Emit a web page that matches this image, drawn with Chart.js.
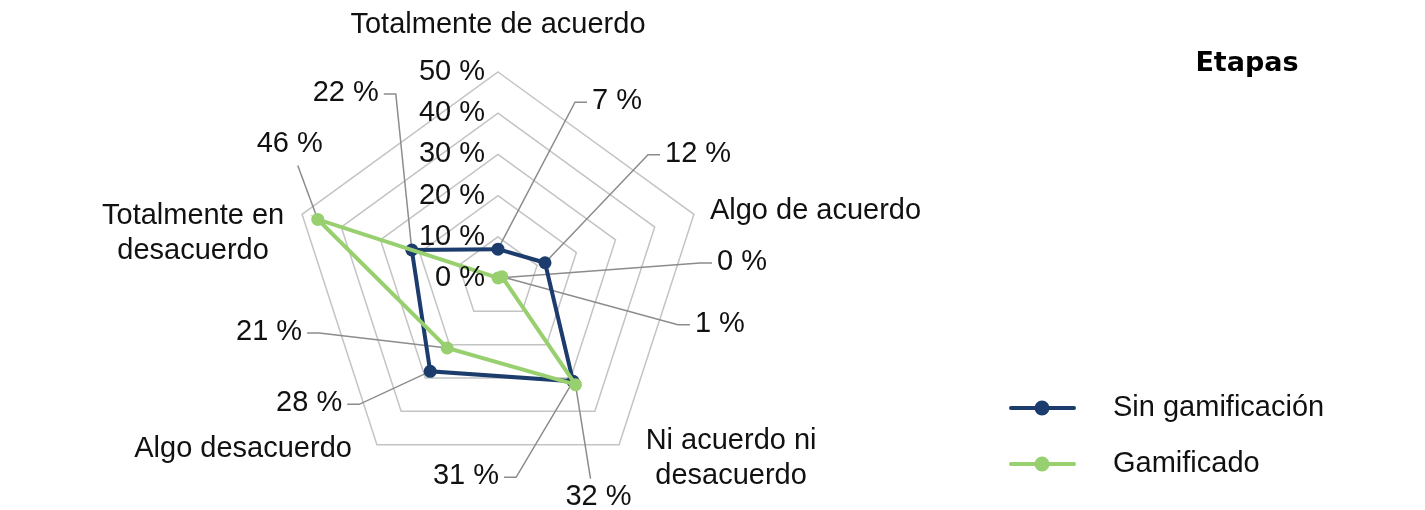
<!DOCTYPE html>
<html>
<head>
<meta charset="utf-8">
<script src="https://cdn.jsdelivr.net/npm/chart.js@4.4.0/dist/chart.umd.min.js"></script>
<style>
  html, body { margin: 0; padding: 0; background: #fff; }
  #wrap { position: relative; width: 1425px; height: 510px; }
</style>
</head>
<body>
<div id="wrap"><canvas id="chart" width="1425" height="510"></canvas></div>
<script>
// data
const categories = [['Totalmente de acuerdo'], ['Algo de acuerdo'], ['Ni acuerdo ni', 'desacuerdo'], ['Algo desacuerdo'], ['Totalmente en', 'desacuerdo']];
const seriesNames = ['Sin gamificación', 'Gamificado'];
const sinGamificacion = [7, 12, 31, 28, 22];
const gamificado = [0, 1, 32, 21, 46];
const tickValues = [0, 10, 20, 30, 40, 50];
const legendTitle = 'Etapas';

// look
const FONT = '"Liberation Sans", Arial, Helvetica, sans-serif';
const navy = '#1b3c6c';
const green = '#98cf6f';

// where the category names sit, relative to the outer vertex
const catLabelPos = [
  { dx: 0, dy: -47, align: 'center' },
  { dx: 16, dy: -3, align: 'left' },
  { dx: 112, dy: 14, align: 'center' },
  { dx: -25, dy: 4, align: 'right' },
  { dx: -109, dy: 19, align: 'center' }
];

// leader lines of the value labels, relative to each point
const valueLabelPos = [
  [{ dx: 77, dy: -147, side: 'right' }, { dx: 103, dy: -108, side: 'right' }, { dx: -57, dy: 96, side: 'left' }, { dx: -71, dy: 33, side: 'left' }, { dx: -16, dy: -156, side: 'left' }],
  [{ dx: 202, dy: -15, side: 'right' }, { dx: 176, dy: 48, side: 'right' }, { dx: 15, dy: 94, side: 'below' }, { dx: -128, dy: -15, side: 'left' }, { dx: -20, dy: -54, side: 'above' }]
];

const leaderLines = {
  id: 'leaderLines',
  beforeDatasetsDraw(chart) {
    const ctx = chart.ctx;
    ctx.save();
    ctx.strokeStyle = '#8c8c8c';
    ctx.lineWidth = 1.5;
    chart.data.datasets.forEach((ds, i) => {
      const meta = chart.getDatasetMeta(i);
      meta.data.forEach((pt, j) => {
        const p = valueLabelPos[i][j];
        const ex = pt.x + p.dx, ey = pt.y + p.dy;
        ctx.beginPath();
        ctx.moveTo(pt.x, pt.y);
        ctx.lineTo(ex, ey);
        if (p.side === 'right') ctx.lineTo(ex + 12, ey);
        if (p.side === 'left') ctx.lineTo(ex - 12, ey);
        ctx.stroke();
      });
    });
    ctx.restore();
  },
  afterDatasetsDraw(chart) {
    const ctx = chart.ctx;
    ctx.save();
    ctx.fillStyle = '#111';
    ctx.font = '29px ' + FONT;
    ctx.textBaseline = 'middle';
    chart.data.datasets.forEach((ds, i) => {
      const meta = chart.getDatasetMeta(i);
      meta.data.forEach((pt, j) => {
        const p = valueLabelPos[i][j];
        const ex = pt.x + p.dx, ey = pt.y + p.dy;
        const txt = ds.data[j] + ' %';
        if (p.side === 'right') { ctx.textAlign = 'left'; ctx.fillText(txt, ex + 17, ey - 1); }
        if (p.side === 'left') { ctx.textAlign = 'right'; ctx.fillText(txt, ex - 17, ey - 1); }
        if (p.side === 'below') { ctx.textAlign = 'center'; ctx.fillText(txt, ex + 8, ey + 18); }
        if (p.side === 'above') { ctx.textAlign = 'center'; ctx.fillText(txt, ex - 8, ey - 21); }
      });
    });
    ctx.restore();
  }
};

const axisText = {
  id: 'axisText',
  afterDraw(chart) {
    const ctx = chart.ctx;
    const scale = chart.scales.r;
    ctx.save();
    ctx.fillStyle = '#111';
    ctx.font = '29px ' + FONT;
    ctx.textBaseline = 'middle';
    // tick labels
    ctx.textAlign = 'right';
    tickValues.forEach(v => {
      const y = scale.yCenter - scale.getDistanceFromCenterForValue(v);
      ctx.fillText(v + ' %', scale.xCenter - 13, y);
    });
    // category names
    chart.data.labels.forEach((lines, j) => {
      const v = scale.getPointPositionForValue(j, scale.max);
      const p = catLabelPos[j];
      ctx.textAlign = p.align;
      const lh = 35;
      const y0 = v.y + p.dy - (lines.length - 1) * lh / 2;
      lines.forEach((ln, k) => ctx.fillText(ln, v.x + p.dx, y0 + k * lh));
    });

    // legend
    ctx.textAlign = 'center';
    ctx.font = 'bold 27px "DejaVu Sans", sans-serif';
    ctx.fillStyle = '#000';
    ctx.fillText(legendTitle, 1247, 64);
    ctx.font = '29px ' + FONT;
    ctx.textAlign = 'left';
    chart.data.datasets.forEach((ds, i) => {
      const y = 408 + i * 56;
      ctx.strokeStyle = ds.borderColor;
      ctx.lineWidth = 4;
      ctx.lineCap = 'round';
      ctx.beginPath();
      ctx.moveTo(1011, y);
      ctx.lineTo(1074, y);
      ctx.stroke();
      ctx.fillStyle = ds.pointBackgroundColor;
      ctx.beginPath();
      ctx.arc(1042, y, 7.5, 0, Math.PI * 2);
      ctx.fill();
      ctx.fillStyle = '#111';
      ctx.fillText(ds.label, 1113, y);
    });
    ctx.restore();
  }
};

new Chart(document.getElementById('chart'), {
  type: 'radar',
  data: {
    labels: categories,
    datasets: [
      {
        label: seriesNames[0], data: sinGamificacion,
        borderColor: navy, backgroundColor: navy, pointBackgroundColor: navy,
        borderWidth: 4, pointRadius: 6.5, pointBorderWidth: 0, fill: false, order: 2
      },
      {
        label: seriesNames[1], data: gamificado,
        borderColor: green, backgroundColor: green, pointBackgroundColor: green,
        borderWidth: 4, pointRadius: 6.5, pointBorderWidth: 0, fill: false, order: 1
      }
    ]
  },
  options: {
    responsive: false,
    devicePixelRatio: 1,
    animation: false,
    layout: { padding: { left: 0, right: 429, top: 72, bottom: 26 } },
    plugins: { legend: { display: false }, tooltip: { enabled: false } },
    scales: {
      r: {
        min: 0, max: 50,
        ticks: { stepSize: 10, display: false, showLabelBackdrop: false },
        grid: { color: '#c4c4c4', lineWidth: 1.5 },
        angleLines: { display: false },
        pointLabels: { display: false }
      }
    }
  },
  plugins: [leaderLines, axisText]
});
</script>
</body>
</html>
